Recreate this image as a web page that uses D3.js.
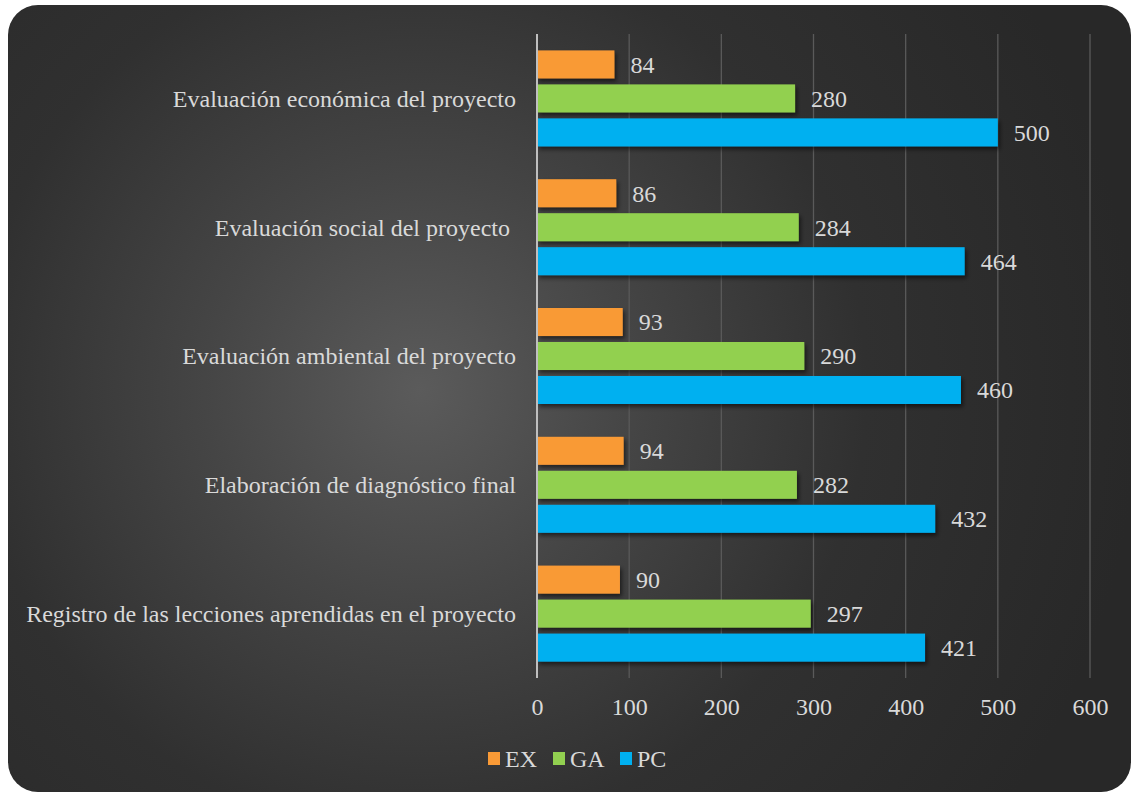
<!DOCTYPE html>
<html>
<head>
<meta charset="utf-8">
<script src="https://cdn.jsdelivr.net/npm/d3@7"></script>
<style>
  html, body { margin: 0; padding: 0; background: #ffffff; }
  svg { display: block; }
  text { white-space: pre; }
</style>
</head>
<body>
<svg id="chart" width="1131" height="792"></svg>
<script>
// Activities (top to bottom) and counts per group
const categories = [
  "Evaluación económica del proyecto",
  "Evaluación social del proyecto ",
  "Evaluación ambiental del proyecto",
  "Elaboración de diagnóstico final",
  "Registro de las lecciones aprendidas en el proyecto"
];
const seriesNames = ["EX", "GA", "PC"];
const exValues = [84, 86, 93, 94, 90];
const gaValues = [280, 284, 290, 282, 297];
const pcValues = [500, 464, 460, 432, 421];
const xTicks = [0, 100, 200, 300, 400, 500, 600];
const seriesColors = ["#F99A36", "#92D050", "#00B0F0"];

const seriesValues = [exValues, gaValues, pcValues];

const svg = d3.select("#chart");
const W = 1131, H = 792;
const font = "'Liberation Serif', 'Times New Roman', serif";
const fontSize = 24;
const textColor = "#D9D9D9";

const defs = svg.append("defs");
const grad = defs.append("radialGradient")
  .attr("id", "bg")
  .attr("gradientUnits", "userSpaceOnUse")
  .attr("cx", 420).attr("cy", 390).attr("r", 720);
grad.append("stop").attr("offset", "0").attr("stop-color", "#5b5b5b");
grad.append("stop").attr("offset", "0.3").attr("stop-color", "#454545");
grad.append("stop").attr("offset", "0.62").attr("stop-color", "#303030");
grad.append("stop").attr("offset", "1").attr("stop-color", "#282828");

const shadow = defs.append("filter").attr("id", "shadow")
  .attr("x", "-10%").attr("y", "-30%").attr("width", "130%").attr("height", "180%");
shadow.append("feDropShadow")
  .attr("dx", 2).attr("dy", 3).attr("stdDeviation", 2)
  .attr("flood-color", "#000").attr("flood-opacity", 0.55);

// Panel with rounded corners
svg.append("rect")
  .attr("x", 8).attr("y", 5)
  .attr("width", W - 8).attr("height", H - 5)
  .attr("rx", 30).attr("ry", 30)
  .attr("fill", "url(#bg)");

const plot = { left: 537, right: 1090, top: 34, bottom: 678 };

const x = d3.scaleLinear().domain([0, 600]).range([plot.left, plot.right]);
const y = d3.scaleBand().domain(categories).range([plot.top, plot.bottom])
  .paddingInner(0.2547).paddingOuter(0.12735);
const ySub = d3.scaleBand().domain(seriesNames).range([0, y.bandwidth()])
  .paddingInner(0.176).paddingOuter(0);

// Gridlines
svg.append("g")
  .selectAll("line")
  .data(xTicks.filter(t => t > 0))
  .join("line")
  .attr("x1", d => x(d)).attr("x2", d => x(d))
  .attr("y1", plot.top).attr("y2", plot.bottom)
  .attr("stroke", "#5a5a5a").attr("stroke-width", 1.3);

// Bars
const rows = categories.map((c, i) => ({
  cat: c,
  items: seriesNames.map((s, j) => ({ series: s, value: seriesValues[j][i], color: seriesColors[j] }))
}));

const groups = svg.append("g").selectAll("g")
  .data(rows).join("g")
  .attr("transform", d => `translate(0,${y(d.cat)})`);

groups.selectAll("rect")
  .data(d => d.items).join("rect")
  .attr("x", x(0))
  .attr("y", d => ySub(d.series))
  .attr("width", d => x(d.value) - x(0))
  .attr("height", ySub.bandwidth())
  .attr("fill", d => d.color)
  .attr("filter", "url(#shadow)");

groups.selectAll("text")
  .data(d => d.items).join("text")
  .attr("x", d => x(d.value) + 16)
  .attr("y", d => ySub(d.series) + ySub.bandwidth() / 2)
  .attr("dy", "0.35em")
  .attr("fill", textColor)
  .attr("font-family", font)
  .attr("font-size", fontSize)
  .text(d => d.value);

// Axis line
svg.append("line")
  .attr("x1", x(0)).attr("x2", x(0))
  .attr("y1", plot.top).attr("y2", plot.bottom)
  .attr("stroke", "#BFBFBF").attr("stroke-width", 2);

// Category labels
svg.append("g").selectAll("text")
  .data(categories).join("text")
  .attr("x", 516)
  .attr("y", d => y(d) + y.bandwidth() / 2)
  .attr("dy", "0.35em")
  .attr("text-anchor", "end")
  .attr("fill", textColor)
  .attr("font-family", font)
  .attr("font-size", fontSize)
  .text(d => d);

// X axis tick labels
const xAxis = d3.axisBottom(x).tickValues(xTicks).tickSize(0).tickPadding(0);
const gx = svg.append("g").attr("transform", `translate(0,${plot.bottom + 29})`).call(xAxis);
gx.select(".domain").remove();
gx.selectAll("text")
  .attr("fill", textColor)
  .attr("font-family", font)
  .attr("font-size", fontSize)
  .attr("dy", "0.35em")
  .attr("y", 0);

// Legend
const legendX = [488, 553, 620];
const legend = svg.append("g").selectAll("g")
  .data(seriesNames).join("g")
  .attr("transform", (d, i) => `translate(${legendX[i]},752)`);
legend.append("rect")
  .attr("width", 12).attr("height", 13)
  .attr("fill", (d, i) => seriesColors[i]);
legend.append("text")
  .attr("x", 17).attr("y", 6.5).attr("dy", "0.35em")
  .attr("fill", textColor)
  .attr("font-family", font)
  .attr("font-size", fontSize)
  .text(d => d);
</script>
</body>
</html>
